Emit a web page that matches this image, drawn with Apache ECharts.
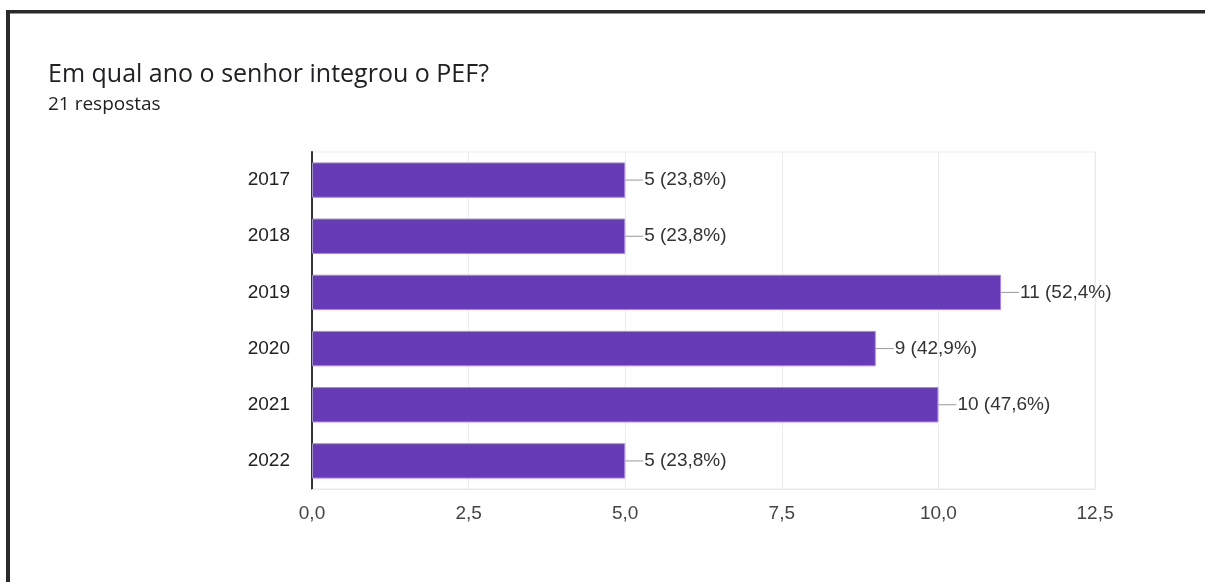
<!DOCTYPE html>
<html>
<head>
<meta charset="utf-8">
<script src="https://cdn.jsdelivr.net/npm/echarts@6/dist/echarts.min.js"></script>
<style>
  html, body { margin: 0; padding: 0; background: #fff; }
  #chart { width: 1205px; height: 582px; }
</style>
</head>
<body>
<div id="chart"></div>
<script>
var years = ['2017', '2018', '2019', '2020', '2021', '2022']
var counts = [5, 5, 11, 9, 10, 5]
var percents = ['23,8%', '23,8%', '52,4%', '42,9%', '47,6%', '23,8%']

var myChart = echarts.init(document.getElementById('chart'));

var option = {
	backgroundColor: '#fff',
	animation: false,
	title: {
		text: 'Em qual ano o senhor integrou o PEF?',
		subtext: '21 respostas',
		left: 43,
		top: 57,
		itemGap: 8,
		textStyle: {
			fontFamily: 'Open Sans',
			fontWeight: 'normal',
			fontSize: 25,
			color: '#202124'
		},
		subtextStyle: {
			fontFamily: 'Open Sans',
			fontSize: 19,
			color: '#202124'
		}
	},
	graphic: [
		// moldura escura do print
		{ type: 'rect', shape: { x: 6, y: 10, width: 1200, height: 3.5 }, style: { fill: '#2a2a2a' } },
		{ type: 'rect', shape: { x: 6, y: 10, width: 4, height: 580 }, style: { fill: '#2a2a2a' } }
	],
	grid: {
		left: 312,
		right: 110,
		top: 152,
		bottom: 93,
		show: true,
		borderColor: '#ebebeb',
		borderWidth: 1
	},
	xAxis: {
		type: 'value',
		min: 0,
		max: 12.5,
		interval: 2.5,
		axisLine: { show: true, lineStyle: { color: '#e6e6e6' } },
		axisTick: { show: false },
		splitLine: { lineStyle: { color: '#ebebeb' } },
		axisLabel: {
			margin: 15,
			fontFamily: 'Liberation Sans',
			fontSize: 19,
			color: '#444',
			formatter: function (v) {
				return v.toFixed(1).replace('.', ',')
			}
		}
	},
	yAxis: {
		type: 'category',
		inverse: true,
		data: years,
		axisLine: { show: true, lineStyle: { color: '#333', width: 2 } },
		axisTick: { show: false },
		axisLabel: {
			margin: 22,
			fontFamily: 'Liberation Sans',
			fontSize: 19,
			color: '#222'
		}
	},
	series: [
		{
			type: 'bar',
			data: counts,
			barCategoryGap: '37%',
			itemStyle: {
				color: '#673ab7',
				borderColor: '#a48bd6',
				borderWidth: 1
			},
			label: {
				show: true,
				position: 'right',
				distance: 0,
				formatter: function (p) {
					return '{l|}{t|' + counts[p.dataIndex] + ' (' + percents[p.dataIndex] + ')}'
				},
				rich: {
					l: { width: 18, height: 1, backgroundColor: '#999', verticalAlign: 'middle' },
					t: { fontFamily: 'Liberation Sans', fontSize: 19, color: '#333', padding: [0, 0, 0, 1] }
				}
			}
		}
	]
};

myChart.setOption(option, true)
</script>
</body>
</html>
